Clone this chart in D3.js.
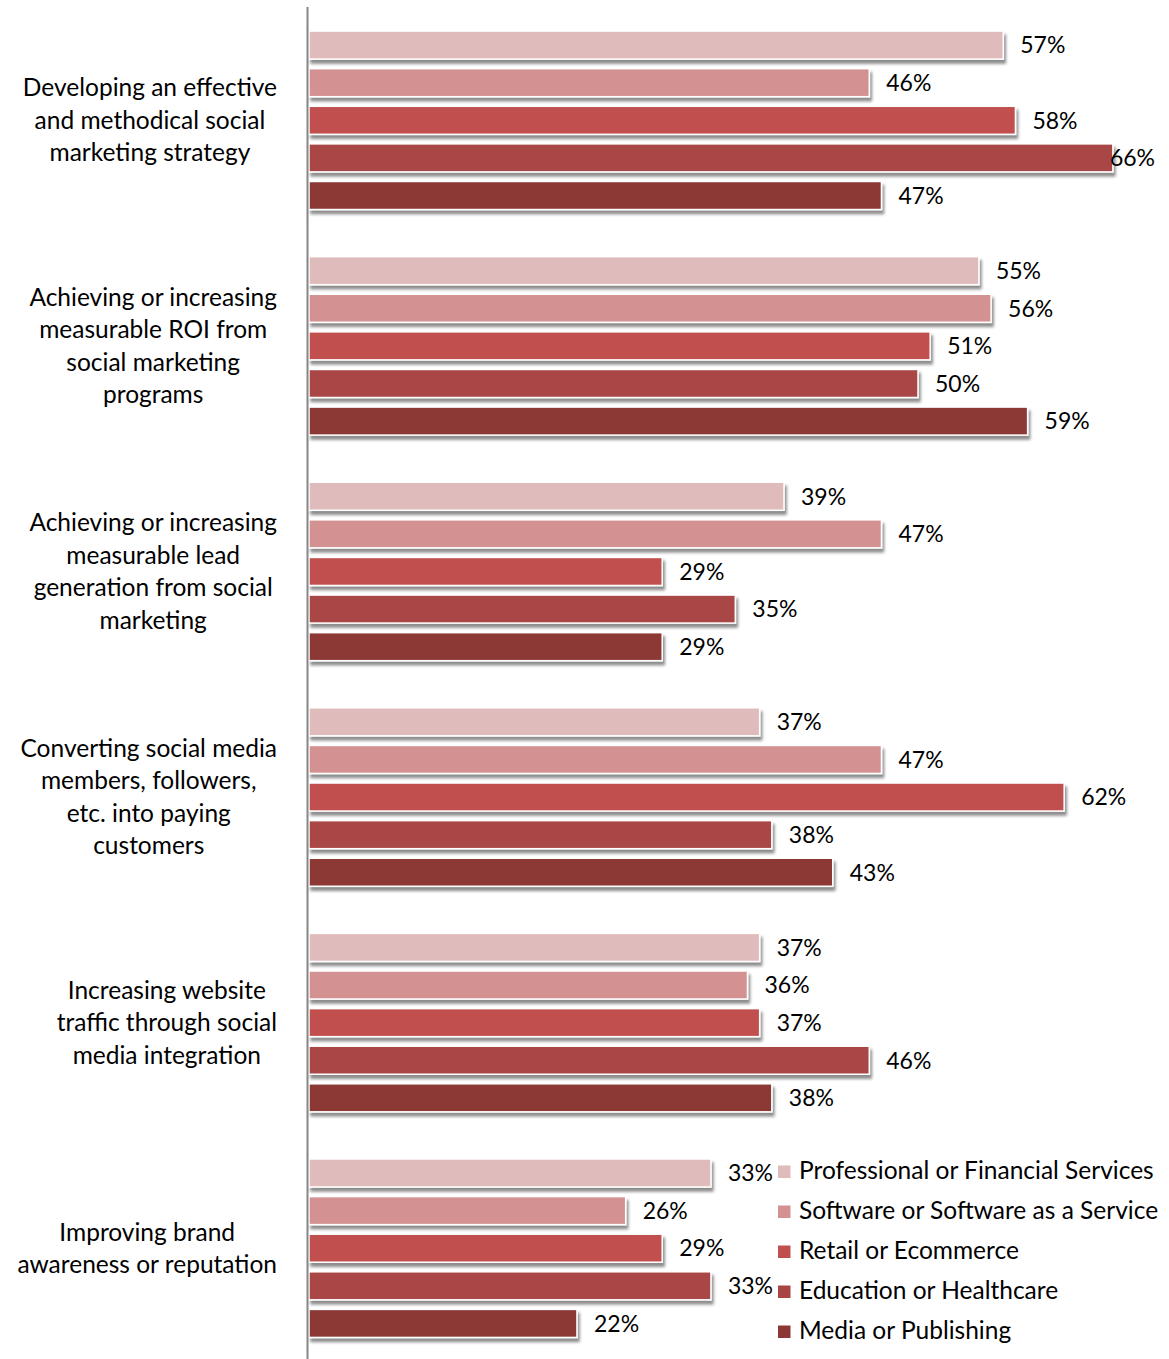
<!DOCTYPE html>
<html>
<head>
<meta charset="utf-8">
<script src="https://cdn.jsdelivr.net/npm/d3@7"></script>
<style>
  html, body { margin: 0; padding: 0; background: #fff; }
  svg { display: block; }
  text { font-family: Lato, "Open Sans", sans-serif; fill: #000; }
</style>
</head>
<body>
<svg id="chart" width="1169" height="1359"></svg>
<script>
// Challenges of social marketing, share of respondents by industry
const categories = [
  ["Developing an effective", "and methodical social", "marketing strategy"],
  ["Achieving or increasing", "measurable ROI from", "social marketing", "programs"],
  ["Achieving or increasing", "measurable lead", "generation from social", "marketing"],
  ["Converting social media", "members, followers,", "etc. into paying", "customers"],
  ["Increasing website", "traffic through social", "media integration"],
  ["Improving brand", "awareness or reputation"]
];
const series = [
  "Professional or Financial Services",
  "Software or Software as a Service",
  "Retail or Ecommerce",
  "Education or Healthcare",
  "Media or Publishing"
];
const professional = [57, 55, 39, 37, 37, 33];
const software     = [46, 56, 47, 47, 36, 26];
const retail       = [58, 51, 29, 62, 37, 29];
const education    = [66, 50, 35, 38, 46, 33];
const media        = [47, 59, 29, 43, 38, 22];
const colors = ["#E0BBBB", "#D39291", "#C0504E", "#A84644", "#8C3836"];

const values = [professional, software, retail, education, media];

const W = 1169;
const svg = d3.select("#chart");

const x = d3.scaleLinear().domain([0, 70]).range([309, 309 + 70 * 12.18]);
const y0 = d3.scaleBand().domain(d3.range(categories.length))
  .range([7.5, 1361]).paddingInner(0.209).paddingOuter(0.1045);
const y1 = d3.scaleBand().domain(d3.range(series.length))
  .range([0, y0.bandwidth()]).paddingInner(0.255).paddingOuter(0);

// soft drop shadow under each bar
const defs = svg.append("defs");
const f = defs.append("filter").attr("id", "shadow")
  .attr("x", "-5%").attr("y", "-30%").attr("width", "110%").attr("height", "170%");
f.append("feGaussianBlur").attr("in", "SourceAlpha").attr("stdDeviation", 1.8).attr("result", "blur");
f.append("feOffset").attr("in", "blur").attr("dx", 2).attr("dy", 4).attr("result", "off");
f.append("feComponentTransfer").attr("in", "off").attr("result", "shade")
  .append("feFuncA").attr("type", "linear").attr("slope", 0.45);
const merge = f.append("feMerge");
merge.append("feMergeNode").attr("in", "shade");
merge.append("feMergeNode").attr("in", "SourceGraphic");

const rows = [];
categories.forEach((c, ci) => {
  series.forEach((s, si) => {
    rows.push({ ci, si, v: values[si][ci] });
  });
});

svg.append("g").selectAll("rect").data(rows).join("rect")
  .attr("x", x(0))
  .attr("y", d => y0(d.ci) + y1(d.si))
  .attr("width", d => x(d.v) - x(0))
  .attr("height", y1.bandwidth())
  .attr("fill", d => colors[d.si])
  .attr("stroke", "#fff")
  .attr("stroke-width", 1.5)
  .attr("filter", "url(#shadow)");

// value labels, kept inside the right edge of the chart
svg.append("g").selectAll("text").data(rows).join("text")
  .attr("y", d => y0(d.ci) + y1(d.si) + y1.bandwidth() / 2)
  .attr("dy", "0.36em")
  .style("font-size", "23px")
  .text(d => d.v + "%")
  .attr("x", function (d) {
    const w = this.getComputedTextLength();
    return Math.min(x(d.v) + 17, W - 14 - w);
  });

// vertical category axis line
svg.append("line")
  .attr("x1", 307.5).attr("x2", 307.5)
  .attr("y1", 7).attr("y2", 1359)
  .attr("stroke", "#868686").attr("stroke-width", 2);

// wrapped category labels, centered as a block ending at the axis gap
const catG = svg.append("g");
const lineH = 32.5;
categories.forEach((lines, ci) => {
  const cy = y0(ci) + y0.bandwidth() / 2;
  const g = catG.append("g");
  const texts = lines.map((ln, li) => g.append("text")
    .attr("y", cy + (li - (lines.length - 1) / 2) * lineH)
    .attr("dy", "0.35em")
    .attr("text-anchor", "middle")
    .style("font-size", "24.5px")
    .text(ln));
  const maxW = d3.max(texts, t => t.node().getComputedTextLength());
  texts.forEach(t => t.attr("x", 277 - maxW / 2));
});

// legend
const leg = svg.append("g").selectAll("g").data(series).join("g")
  .attr("transform", (d, i) => `translate(778, ${1170 + i * 40})`);
leg.append("rect").attr("x", 0).attr("y", -4.5).attr("width", 12.5).attr("height", 12.5)
  .attr("fill", (d, i) => colors[i]);
leg.append("text").attr("x", 21).attr("y", 0).attr("dy", "0.35em")
  .style("font-size", "24.5px")
  .text(d => d);
</script>
</body>
</html>
